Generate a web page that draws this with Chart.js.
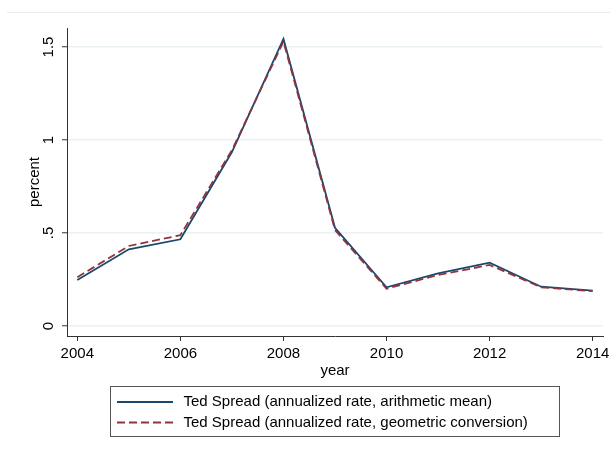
<!DOCTYPE html>
<html>
<head>
<meta charset="utf-8">
<script src="https://cdn.jsdelivr.net/npm/chart.js@4"></script>
<style>
  html, body { margin: 0; padding: 0; background: #ffffff; }
  #wrap { width: 610px; height: 451px; position: relative; }
</style>
</head>
<body>
<div id="wrap"><canvas id="c" width="610" height="451"></canvas></div>
<script>
const years = [2004, 2005, 2006, 2007, 2008, 2009, 2010, 2011, 2012, 2013, 2014];
const arithmeticMean = [0.247, 0.412, 0.466, 0.935, 1.543, 0.528, 0.208, 0.283, 0.340, 0.211, 0.190];
const geometricConversion = [0.262, 0.430, 0.488, 0.945, 1.529, 0.516, 0.200, 0.274, 0.328, 0.208, 0.187];
const xTicks = [2004, 2006, 2008, 2010, 2012, 2014];
const yTicks = [0, 0.5, 1, 1.5];
const yTickLabels = ['0', '.5', '1', '1.5'];
const seriesLabels = [
  'Ted Spread (annualized rate, arithmetic mean)',
  'Ted Spread (annualized rate, geometric conversion)'
];
const xTitle = 'year';
const yTitle = 'percent';

const BLUE = '#1a476f';
const RED = '#90353b';
const FONT = '"Liberation Sans", Arial, sans-serif';

const decor = {
  id: 'decor',
  beforeDraw(chart) {
    const ctx = chart.ctx;
    ctx.save();
    ctx.fillStyle = '#ffffff';
    ctx.fillRect(0, 0, chart.width, chart.height);
    ctx.strokeStyle = '#e6ecec';
    ctx.lineWidth = 1;
    ctx.beginPath();
    ctx.moveTo(7, 12.5);
    ctx.lineTo(610, 12.5);
    ctx.stroke();
    ctx.restore();
  },
  afterDraw(chart) {
    const ctx = chart.ctx;
    const xs = chart.scales.x, ys = chart.scales.y;
    const area = chart.chartArea;
    ctx.save();
    ctx.fillStyle = '#000000';
    ctx.font = '15px ' + FONT;
    yTicks.forEach((v, i) => {
      const py = ys.getPixelForValue(v);
      ctx.save();
      ctx.translate(49, py);
      ctx.rotate(-Math.PI / 2);
      ctx.textAlign = 'center';
      ctx.textBaseline = 'middle';
      ctx.fillText(yTickLabels[i], 0, 0);
      ctx.restore();
    });
    ctx.textAlign = 'center';
    ctx.textBaseline = 'middle';
    xTicks.forEach(v => {
      ctx.fillText(String(v), xs.getPixelForValue(v), 354);
    });
    ctx.fillText(xTitle, (area.left + area.right) / 2, 371);
    ctx.save();
    ctx.translate(35, (area.top + area.bottom) / 2);
    ctx.rotate(-Math.PI / 2);
    ctx.fillText(yTitle, 0, 0);
    ctx.restore();
    // legend
    const bx = 110.5, by = 386.5, bw = 449, bh = 50;
    ctx.strokeStyle = '#555555';
    ctx.lineWidth = 1;
    ctx.strokeRect(bx, by, bw, bh);
    const rows = [402, 422.5];
    chart.data.datasets.forEach((ds, i) => {
      const y = rows[i];
      ctx.save();
      ctx.strokeStyle = ds.borderColor;
      ctx.lineWidth = ds.borderWidth;
      ctx.setLineDash(ds.borderDash || []);
      ctx.beginPath();
      ctx.moveTo(117, y);
      ctx.lineTo(173, y);
      ctx.stroke();
      ctx.restore();
      ctx.textAlign = 'left';
      ctx.fillStyle = '#000000';
      ctx.fillText(ds.label, 183.5, y);
    });
    ctx.restore();
  }
};

new Chart(document.getElementById('c'), {
  type: 'line',
  data: {
    datasets: [
      {
        label: seriesLabels[0],
        data: years.map((y, i) => ({ x: y, y: arithmeticMean[i] })),
        borderColor: BLUE,
        borderWidth: 1.8,
        pointRadius: 0,
        tension: 0,
        fill: false,
        order: 1
      },
      {
        label: seriesLabels[1],
        data: years.map((y, i) => ({ x: y, y: geometricConversion[i] })),
        borderColor: RED,
        borderWidth: 1.8,
        borderDash: [8, 4],
        pointRadius: 0,
        tension: 0,
        fill: false,
        order: 0
      }
    ]
  },
  options: {
    responsive: false,
    animation: false,
    devicePixelRatio: 1,
    layout: { padding: { left: 67, top: 28, right: 7, bottom: 115 } },
    plugins: { legend: { display: false }, tooltip: { enabled: false }, title: { display: false } },
    scales: {
      x: {
        type: 'linear',
        min: 2003.8,
        max: 2014.2,
        afterBuildTicks: s => { s.ticks = xTicks.map(v => ({ value: v })); },
        afterFit: s => { s.height = 0; },
        ticks: { display: false },
        grid: { drawOnChartArea: false, drawTicks: true, tickLength: 5, tickColor: '#333333', tickWidth: 1 },
        border: { display: true, color: '#333333', width: 1 }
      },
      y: {
        type: 'linear',
        min: -0.054,
        max: 1.602,
        afterBuildTicks: s => { s.ticks = yTicks.map(v => ({ value: v })); },
        afterFit: s => { s.width = 0; },
        ticks: { display: false },
        grid: { drawOnChartArea: true, color: '#eaf2f3', lineWidth: 1.5, drawTicks: true, tickLength: 5, tickColor: '#333333', tickWidth: 1 },
        border: { display: true, color: '#333333', width: 1 }
      }
    }
  },
  plugins: [decor]
});
</script>
</body>
</html>
